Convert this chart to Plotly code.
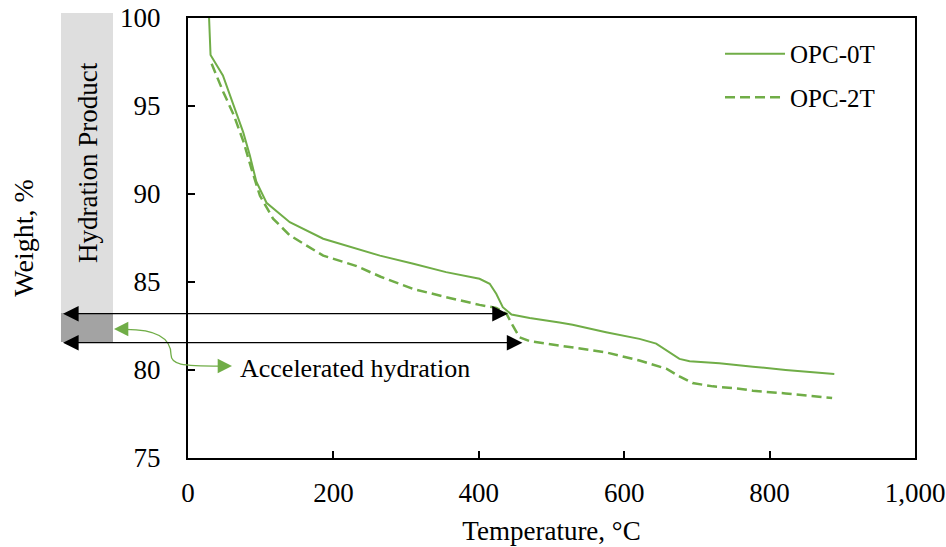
import plotly.graph_objects as go

# Temperature (°C) and weight (%)
temp_0t = [29, 31, 48, 62, 76, 85, 94, 108, 140, 186, 232, 264, 310, 355, 401, 415, 424, 433, 445,
           470, 511, 529, 575, 621, 644, 658, 676, 690, 731, 777, 822, 889]
weight_0t = [100, 97.9, 96.74, 95.13, 93.5, 92.2, 90.7, 89.5, 88.4, 87.46, 86.9, 86.5, 86.04, 85.56,
             85.18, 84.9, 84.33, 83.57, 83.15, 82.96, 82.7, 82.57, 82.15, 81.77, 81.5, 81.1, 80.63,
             80.5, 80.38, 80.19, 80.0, 79.77]

temp_2t = [32.5, 48.5, 62.8, 76.5, 87.5, 99, 117, 140, 186, 232, 265, 310, 355, 401, 424, 438, 447,
           456, 470, 511, 529, 575, 621, 658, 676, 694, 722, 758, 777, 822, 886]
weight_2t = [97.4, 95.8, 94.5, 92.95, 91.4, 89.9, 88.6, 87.65, 86.5, 85.9, 85.3, 84.6, 84.14, 83.7,
             83.53, 83.2, 82.5, 81.86, 81.64, 81.4, 81.3, 81.0, 80.54, 80.07, 79.64, 79.26, 79.07,
             78.94, 78.82, 78.67, 78.41]

series_names = ["OPC-0T", "OPC-2T"]
x_ticks = [0, 200, 400, 600, 800, 1000]
y_ticks = [75, 80, 85, 90, 95, 100]

# arrow levels (weight %) and end temperatures
arrow_levels = [83.2, 81.55]
arrow_ends = [440, 460]
arrow_start = -174

GREEN = "#70AD47"
FONT = "Liberation Serif"

fig = go.Figure()
fig.add_trace(go.Scatter(x=temp_0t, y=weight_0t, mode="lines", name=series_names[0],
                         legendgroup="a", line=dict(color=GREEN, width=2)))
fig.add_trace(go.Scatter(x=temp_2t, y=weight_2t, mode="lines", name=series_names[1],
                         legendgroup="b", line=dict(color=GREEN, width=2.5, dash="10px,5px")))

shapes = [
    dict(type="rect", xref="paper", yref="paper", x0=-0.1747, x1=-0.1032, y0=0.3295, y1=1.0114,
         fillcolor="#DEDEDE", line=dict(width=0), layer="below"),
    dict(type="rect", xref="paper", yref="paper", x0=-0.1747, x1=-0.1032, y0=0.2636, y1=0.3295,
         fillcolor="#A3A3A3", line=dict(width=0), layer="below"),
    dict(type="path", xref="paper", yref="paper",
         path="M -0.0860,0.2925 C -0.040,0.2925 -0.0234,0.27 -0.0234,0.235 "
              "C -0.0234,0.212 -0.010,0.209 0.045,0.209",
         line=dict(color=GREEN, width=1.3)),
]

annotations = []
for lvl, end in zip(arrow_levels, arrow_ends):
    annotations.append(dict(x=end, y=lvl, xref="x", yref="y", ax=arrow_start, ay=lvl,
                            axref="x", ayref="y", text="", showarrow=True,
                            arrowhead=2, arrowsize=2.6, arrowwidth=1.2, arrowcolor="black",
                            arrowside="end+start", startarrowhead=2, startarrowsize=2.6))
# green arrow heads
annotations.append(dict(x=-0.1018, y=0.2932, xref="paper", yref="paper", ax=14, ay=0, text="",
                        showarrow=True, arrowhead=2, arrowsize=2.2, arrowwidth=1.3, arrowcolor=GREEN))
annotations.append(dict(x=0.0605, y=0.2091, xref="paper", yref="paper", ax=-14, ay=0, text="",
                        showarrow=True, arrowhead=2, arrowsize=2.2, arrowwidth=1.3, arrowcolor=GREEN))
annotations.append(dict(x=0.0688, y=0.2045, xref="paper", yref="paper", xanchor="left",
                        yanchor="middle", text="Accelerated hydration", showarrow=False,
                        font=dict(family=FONT, size=26, color="black")))
annotations.append(dict(x=-0.1376, y=0.6727, xref="paper", yref="paper", xanchor="center",
                        yanchor="middle", text="Hydration Product", textangle=-90, showarrow=False,
                        font=dict(family=FONT, size=27, color="black")))

fig.update_layout(
    width=946, height=547,
    margin=dict(l=188, r=31, t=18, b=89),
    paper_bgcolor="white", plot_bgcolor="white",
    font=dict(family=FONT, size=27, color="black"),
    shapes=shapes, annotations=annotations,
    legend=dict(x=0.7318, y=0.9705, xanchor="left", yanchor="top", bgcolor="rgba(0,0,0,0)",
                font=dict(family=FONT, size=25, color="black"), itemwidth=60,
                tracegroupgap=8),
    xaxis=dict(range=[0, 1000], tickvals=x_ticks, tickformat=",d", ticks="inside", ticklen=7,
               tickwidth=1.5, tickcolor="black", showline=True, linecolor="black", linewidth=2,
               mirror=True, showgrid=False, zeroline=False, ticklabelstandoff=10, automargin=False,
               tickfont=dict(family=FONT, size=27, color="black"),
               title=dict(text="Temperature, °C", standoff=14,
                          font=dict(family=FONT, size=27, color="black"))),
    yaxis=dict(range=[75, 100], tickvals=y_ticks, ticks="inside", ticklen=7, tickwidth=1.5,
               tickcolor="black", showline=True, linecolor="black", linewidth=2, mirror=True,
               showgrid=False, zeroline=False, ticklabelstandoff=20, automargin=False,
               tickfont=dict(family=FONT, size=27, color="black"),
               title=dict(text="Weight, %", standoff=78,
                          font=dict(family=FONT, size=28, color="black"))),
)

fig.write_html("out.html")
